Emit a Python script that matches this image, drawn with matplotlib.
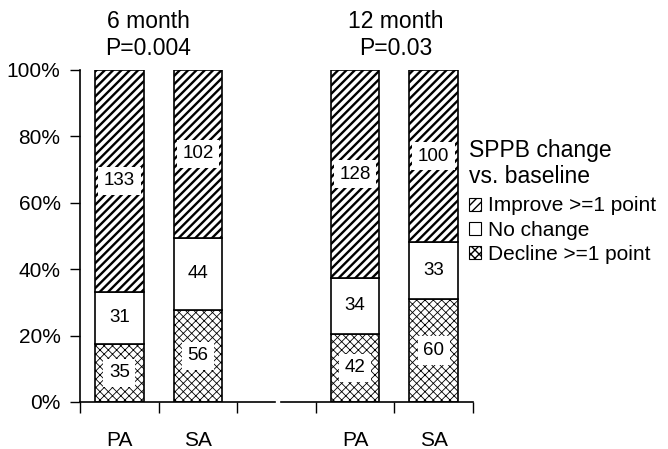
import numpy as np
import matplotlib.pyplot as plt
from matplotlib.patches import Patch

plt.rcParams['font.family'] = ['Liberation Sans', 'DejaVu Sans']

# SPPB change counts by arm at each follow-up visit
arms = ['PA', 'SA', 'PA', 'SA']
visits = ['6 month', '12 month']
p_values = ['P=0.004', 'P=0.03']
decline = np.array([35, 56, 42, 60])
no_change = np.array([31, 44, 34, 33])
improve = np.array([133, 102, 128, 100])

total = decline + no_change + improve
pct_dec = decline / total * 100
pct_nc = no_change / total * 100
pct_imp = improve / total * 100

xpos = np.array([0, 1, 3, 4])  # slot 2 left empty between visits
width = 0.62

fig = plt.figure(figsize=(6.68, 4.49), dpi=100)
ax = fig.add_axes([0.1198, 0.1047, 0.5883, 0.7394])

with plt.rc_context({'hatch.linewidth': 0.6}):
    ax.bar(xpos, pct_dec, width, color='white', edgecolor='black',
           hatch='xxxx', linewidth=1.2)
ax.bar(xpos, pct_nc, width, bottom=pct_dec, color='white', edgecolor='black',
       linewidth=1.2)
with plt.rc_context({'hatch.linewidth': 1.7}):
    ax.bar(xpos, pct_imp, width, bottom=pct_dec + pct_nc, color='white',
           edgecolor='black', hatch='////', linewidth=1.2)

# counts in the middle of each segment
box = dict(boxstyle='square,pad=0.3', fc='white', ec='none')
for i in range(len(xpos)):
    mids = [pct_dec[i] / 2,
            pct_dec[i] + pct_nc[i] / 2,
            pct_dec[i] + pct_nc[i] + pct_imp[i] / 2]
    for y, n in zip(mids, [decline[i], no_change[i], improve[i]]):
        ax.text(xpos[i], y, str(n), ha='center', va='center', fontsize=13.5,
                bbox=box)

ax.set_xlim(-0.5, 4.5)
ax.set_ylim(0, 100)
ax.set_yticks(np.arange(0, 101, 20))
ax.set_yticklabels(['%d%%' % v for v in range(0, 101, 20)], fontsize=15)
ax.tick_params(axis='y', length=7, width=1, pad=7)

# tick marks between categories, arm names underneath
ax.set_xticks(np.arange(-0.5, 5, 1))
ax.set_xticklabels([''] * 6)
ax.tick_params(axis='x', which='major', length=8, width=1)
ax.set_xticks(xpos, minor=True)
ax.set_xticklabels(arms, minor=True, fontsize=15)
ax.tick_params(axis='x', which='minor', length=0, pad=21)

for s in ['top', 'right', 'bottom']:
    ax.spines[s].set_visible(False)
ax.spines['left'].set_linewidth(1.2)

# broken baseline between the two visits
ax.plot([0, 0.496], [0, 0], color='black', lw=1.2, transform=ax.transAxes,
        clip_on=False)
ax.plot([0.511, 1], [0, 0], color='black', lw=1.2, transform=ax.transAxes,
        clip_on=False)

for xc, v, p in zip([0.365, 3.52], visits, p_values):
    fig.text((80 + (xc + 0.5) * 78.6) / 668, 1 - 10 / 449, v + '\n' + p,
             ha='center', va='top', fontsize=16.5, multialignment='center',
             linespacing=1.2)

handles = [Patch(facecolor='white', edgecolor='black', hatch='////', lw=0.8),
           Patch(facecolor='white', edgecolor='black', lw=0.8),
           Patch(facecolor='white', edgecolor='black', hatch='xxxx', lw=0.8)]
labels = ['Improve >=1 point', 'No change', 'Decline >=1 point']
leg = fig.legend(handles, labels, title='SPPB change\nvs. baseline',
                 loc='upper left', bbox_to_anchor=(0.689, 0.71),
                 frameon=False, fontsize=15, title_fontsize=16.5,
                 handlelength=0.6, handleheight=0.6, handletextpad=0.35,
                 labelspacing=0.25, alignment='left', borderaxespad=0)
leg._legend_box.sep = 6

fig.savefig('out.png', dpi=100)
